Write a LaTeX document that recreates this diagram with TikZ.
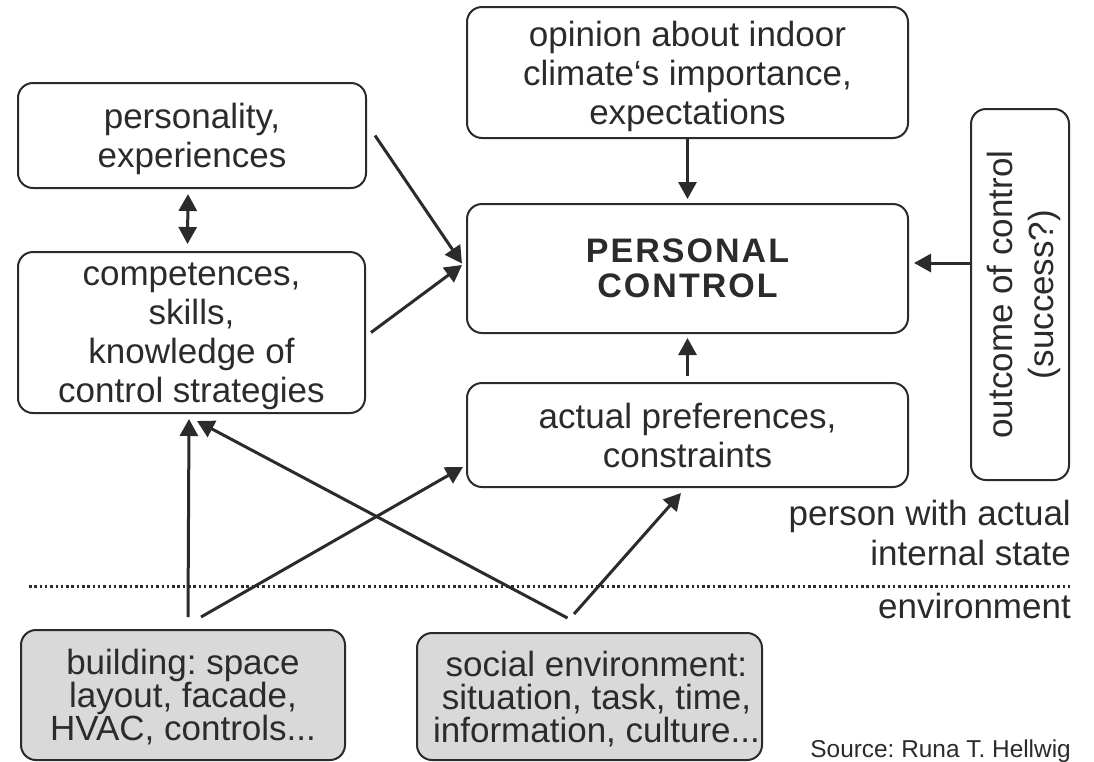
\documentclass[tikz,border=0pt]{standalone}
\usepackage{fontspec}
\setmainfont{Liberation Sans}
\frenchspacing
\usetikzlibrary{arrows.meta,calc}
\definecolor{ink}{HTML}{2B2B2B}
\definecolor{envgray}{HTML}{D9D9D9}
\tikzset{
  box/.style={draw=ink,line width=2pt,rounded corners=15pt,align=center,inner sep=0pt,text depth=0pt,text=ink,font=\fontsize{35}{39}\selectfont},
  envbox/.style={box,fill=envgray,font=\fontsize{35}{33}\selectfont},
  lbl/.style={align=right,inner sep=0pt,text=ink,font=\fontsize{35}{40}\selectfont},
  link/.style={->,draw=ink,line width=3pt},
}
\begin{document}
\begin{tikzpicture}[x=1pt,y=-1pt,>={Triangle[length=17pt,width=18pt]}]
 \useasboundingbox (0,0) rectangle (1094,761);

 \node[box,minimum width=348pt,minimum height=105pt] (pers) at (192,135.5) {personality,\\experiences};
 \node[box,minimum width=347pt,minimum height=161pt] (comp) at (191.5,332.5) {competences,\\skills,\\knowledge of\\control strategies};
 \node[box,minimum width=441pt,minimum height=131pt] (opin) at (687.5,72.5) {opinion about indoor\\climate‘s importance,\\expectations};
 \node[box,minimum width=441pt,minimum height=129pt,font=\fontsize{34}{35}\selectfont\bfseries\addfontfeature{LetterSpace=6}] (pc) at (687.5,268.5) {PERSONAL\\CONTROL};
 \node[box,minimum width=441pt,minimum height=104pt] (act) at (687.5,435) {actual preferences,\\constraints};
 \node[box,rotate=90,minimum width=371pt,minimum height=98pt,font=\fontsize{35}{41}\selectfont] (outc) at (1020,294.5) {outcome of control\\(success?)}; % rotated: outc.north is its left side
 \node[envbox,minimum width=324pt,minimum height=130pt] (bldg) at (183,695) {building: space\\layout, facade,\\HVAC, controls...};
 \node[envbox,minimum width=345pt,minimum height=127pt] (soc) at (589.5,696.5) {\hspace*{14pt}social environment:\\\hspace*{14pt}situation, task, time,\\\hspace*{14pt}information, culture...};

 \draw[ink,line width=3pt,dash pattern=on 2.5pt off 2.8pt] (29,586) -- (1070,586);
 \node[lbl,anchor=base east] (state) at (1071,565) {person with actual\\internal state};
 \node[lbl,anchor=base east] (env) at (1071,618) {environment};
 \node[inner sep=0pt,text=ink,font=\fontsize{24.4}{28}\selectfont,anchor=base east] (src) at (1071,757) {Source: Runa T. Hellwig};

 \draw[link] ([xshift=8pt]pers.east) -- ([shift={(-4pt,5pt)}]pc.west);
 \draw[link] ([xshift=5pt]comp.east) -- ([shift={(-4pt,3.5pt)}]pc.west);
 \draw[link] (opin.south) -- ([yshift=4pt]pc.north);
 \draw[link] ([yshift=6pt]act.north) -- ([yshift=-4pt]pc.south);
 \draw[link] ($(pc.east -| outc.north)+(0,-5.5)$) -- ($(pc.east)+(5,-5.5)$);
 \draw[link,<->] ([shift={(-4pt,-5pt)}]pers.south) -- ([shift={(-4pt,7pt)}]comp.north);

 \draw[link] ([shift={(5pt,12pt)}]bldg.north) -- ([shift={(-2.5pt,-5pt)}]comp.south);
 \draw[link] ([shift={(18pt,12pt)}]bldg.north) -- ([shift={(-3pt,-32pt)}]act.west);
 \draw[link] ([shift={(-22pt,14pt)}]soc.north) -- ([shift={(5.5pt,-7pt)}]comp.south);
 \draw[link] ([shift={(-15.5pt,18pt)}]soc.north) -- ([shift={(-6.5pt,-5pt)}]act.south);
\end{tikzpicture}
\end{document}
